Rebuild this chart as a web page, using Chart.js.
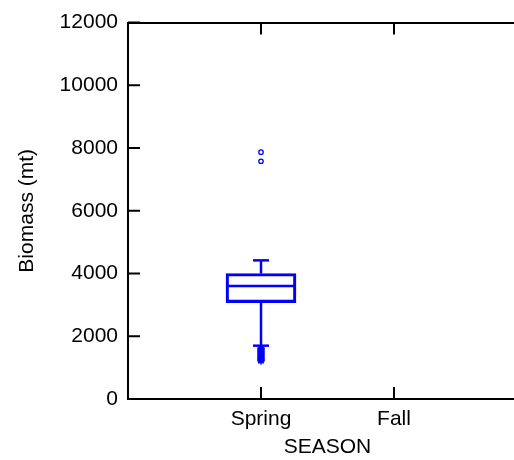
<!DOCTYPE html>
<html>
<head>
<meta charset="utf-8">
<script src="https://cdn.jsdelivr.net/npm/chart.js@4/dist/chart.umd.min.js"></script>
<style>
  html, body { margin: 0; padding: 0; background: #fff; overflow: hidden; }
</style>
</head>
<body>
<canvas id="biomassChart" width="540" height="460"></canvas>
<script>
// Seasons on the x axis, one box per season (Fall has no survey data)
const seasons = ['Spring', 'Fall'];

// Box statistics per season (mt)
const lowerWhisker = [1700, null];
const q1 = [3070, null];
const medians = [3600, null];
const q3 = [4000, null];
const upperWhisker = [4420, null];

// Points beyond the whiskers
const highOutliers = [[7580, 7870], []];
const lowOutliers = [[1220, 1270, 1320, 1370, 1420, 1470, 1520, 1570, 1620], []];

const yTicks = [0, 2000, 4000, 6000, 8000, 10000, 12000];

const BLUE = '#0000ff';

Chart.defaults.font.family = "'Liberation Sans', Arial, sans-serif";
Chart.defaults.font.size = 21;
Chart.defaults.color = '#000';

// Build the floating bars for the boxes (Q1 to Q3)
const boxData = [];
for (let i = 0; i < seasons.length; i++) {
  if (q1[i] != null) boxData.push({ x: i + 1, y: [q1[i], q3[i]] });
}

// Outlier points
const highPts = [];
const lowPts = [];
for (let i = 0; i < seasons.length; i++) {
  highOutliers[i].forEach(v => highPts.push({ x: i + 1, y: v }));
  lowOutliers[i].forEach(v => lowPts.push({ x: i + 1, y: v }));
}

// Whiskers, caps and median line on top of the boxes
const whiskerPlugin = {
  id: 'whiskers',
  afterDatasetsDraw(chart) {
    const { ctx, scales: { x, y } } = chart;
    ctx.save();
    ctx.strokeStyle = BLUE;
    ctx.lineWidth = 2.5;
    for (let i = 0; i < seasons.length; i++) {
      if (medians[i] == null) continue;
      const cx = x.getPixelForValue(i + 1);
      const half = 34;
      const cap = 8;
      const line = (x1, y1, x2, y2) => {
        ctx.beginPath();
        ctx.moveTo(x1, y1);
        ctx.lineTo(x2, y2);
        ctx.stroke();
      };
      // median
      line(cx - half, y.getPixelForValue(medians[i]), cx + half, y.getPixelForValue(medians[i]));
      // upper whisker + cap
      line(cx, y.getPixelForValue(q3[i]), cx, y.getPixelForValue(upperWhisker[i]));
      line(cx - cap, y.getPixelForValue(upperWhisker[i]), cx + cap, y.getPixelForValue(upperWhisker[i]));
      // lower whisker + cap
      line(cx, y.getPixelForValue(q1[i]), cx, y.getPixelForValue(lowerWhisker[i]));
      line(cx - cap, y.getPixelForValue(lowerWhisker[i]), cx + cap, y.getPixelForValue(lowerWhisker[i]));
    }
    ctx.restore();
  }
};

// Tick marks pointing into the plot area (left, bottom and top)
const inwardTicks = {
  id: 'inwardTicks',
  afterDraw(chart) {
    const { ctx, chartArea: a, scales: { x, y } } = chart;
    const len = 12;
    ctx.save();
    ctx.strokeStyle = '#000';
    ctx.lineWidth = 2;
    ctx.beginPath();
    y.ticks.forEach(t => {
      const py = y.getPixelForValue(t.value);
      ctx.moveTo(a.left, py);
      ctx.lineTo(a.left + len, py);
    });
    seasons.forEach((s, i) => {
      const px = x.getPixelForValue(i + 1);
      ctx.moveTo(px, a.bottom);
      ctx.lineTo(px, a.bottom - len);
      ctx.moveTo(px, a.top);
      ctx.lineTo(px, a.top + len);
    });
    ctx.stroke();
    ctx.restore();
  }
};

const ctx = document.getElementById('biomassChart');

new Chart(ctx, {
  type: 'bar',
  data: {
    datasets: [
      {
        type: 'bar',
        data: boxData,
        backgroundColor: 'rgba(255,255,255,0)',
        borderColor: BLUE,
        borderWidth: 2.5,
        borderSkipped: false,
        barThickness: 70,
        grouped: false
      },
      {
        type: 'scatter',
        data: highPts,
        pointStyle: 'circle',
        pointRadius: 2.2,
        borderWidth: 1.3,
        borderColor: BLUE,
        backgroundColor: '#fff'
      },
      {
        type: 'scatter',
        data: lowPts,
        pointStyle: 'star',
        pointRadius: 3.8,
        borderWidth: 1.6,
        borderColor: BLUE,
        backgroundColor: BLUE
      }
    ]
  },
  options: {
    responsive: false,
    animation: false,
    layout: { padding: { top: 18, right: 13, left: 0, bottom: 0 } },
    plugins: {
      legend: { display: false },
      tooltip: { enabled: false }
    },
    scales: {
      x: {
        type: 'linear',
        position: 'bottom',
        min: 0,
        max: 3,
        offset: false,
        grid: { display: false, drawTicks: false },
        border: { color: '#000', width: 2 },
        ticks: {
          stepSize: 1,
          autoSkip: false,
          maxRotation: 0,
          padding: 8,
          callback: v => seasons[v - 1] || ''
        },
        title: { display: true, text: 'SEASON', padding: { top: 2, bottom: 0 } },
        afterFit: s => { s.height = 61; }
      },
      x2: {
        type: 'linear',
        position: 'top',
        min: 0,
        max: 3,
        offset: false,
        grid: { display: false, drawTicks: false },
        border: { color: '#000', width: 2 },
        ticks: { display: false },
        afterFit: s => { s.height = 0; }
      },
      y: {
        min: 0,
        max: 12000,
        grid: { display: false, drawTicks: false },
        border: { color: '#000', width: 2 },
        afterBuildTicks: s => { s.ticks = yTicks.map(v => ({ value: v })); },
        ticks: { padding: 10, callback: v => String(v) },
        title: { display: true, text: 'Biomass (mt)', padding: { top: 15, bottom: 0 } },
        afterFit: s => { s.width = 128; }
      }
    }
  },
  plugins: [whiskerPlugin, inwardTicks]
});
</script>
</body>
</html>
